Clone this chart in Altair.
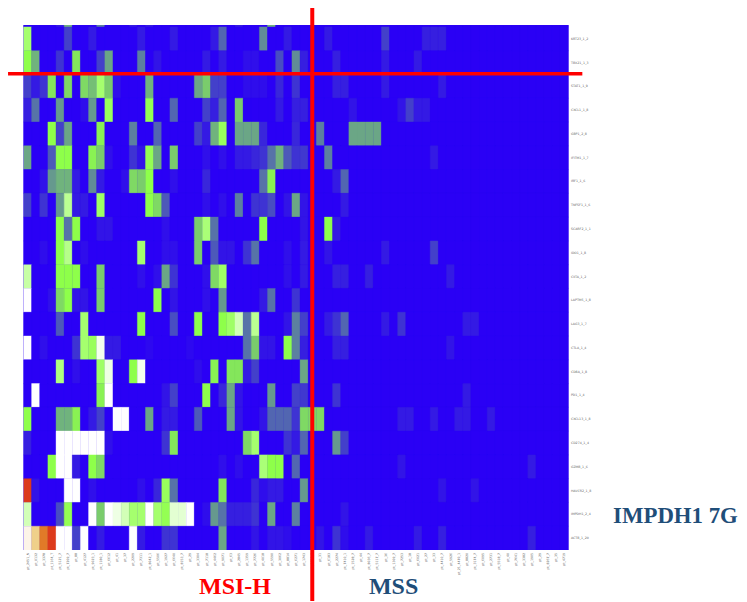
import altair as alt
import pandas as pd

row_top = {4: .1, 5: .7, 9: .5, 13: .1, 15: .1, 26: .1, 30: .7}
row_00 = {0: 1.2, 5: .25, 8: .1, 14: .1, 18: .1, 23: .1, 24: .4, 29: .55, 32: .1, 37: .1, 44: .25, 49: .12, 50: .12, 51: .12}
row_01 = {0: 1.0, 1: .7, 4: .2, 6: .9, 9: .25, 10: .65, 14: .5, 16: .08, 22: .1, 24: .1, 27: .06, 28: .06, 31: .3, 33: .55, 34: .12, 38: .12, 44: .1, 48: .1}
row_02 = {0: .25, 1: .1, 2: .2, 3: .9, 5: .85, 7: .85, 8: .75, 9: 1.2, 10: .8, 11: .06, 15: .7, 21: .65, 22: .8, 23: .25, 24: .25, 27: .05, 28: .05, 29: .05, 31: .15, 33: .2, 38: .12, 39: .12, 44: .1, 51: .1}
row_03 = {0: .12, 1: .45, 4: .6, 7: .05, 8: .6, 10: 1.1, 15: 1.05, 18: .4, 22: .25, 23: .12, 24: .4, 26: .8, 31: .1, 33: .12, 34: .12, 40: .08, 46: .08, 47: .25, 48: .1, 49: .1}
row_04 = {3: 1.0, 4: .25, 5: .65, 9: .95, 13: .5, 16: .4, 21: .25, 22: .1, 23: .7, 24: 1.1, 26: .65, 27: .65, 28: .65, 29: .15, 33: .15, 36: .5, 40: .65, 41: .65, 42: .65, 43: .65}
row_05 = {0: .65, 3: .35, 4: 1.0, 5: 1.0, 8: .95, 9: .8, 10: .06, 13: .2, 14: .08, 15: 1.05, 16: .65, 18: .8, 22: .06, 24: .06, 26: .1, 27: .1, 28: .15, 29: .2, 30: .45, 31: .7, 32: .35, 33: .2, 34: .22, 37: .5, 50: .1}
row_06 = {2: .07, 3: .6, 4: .7, 5: .7, 6: .1, 8: .55, 9: .1, 12: .06, 13: .85, 14: .8, 15: 1.0, 18: .06, 22: .15, 29: .45, 30: .95, 38: .1, 39: .4}
row_07 = {0: .25, 2: .2, 4: .6, 5: 1.4, 6: .1, 7: .1, 9: 1.15, 15: 1.0, 16: .85, 17: .35, 22: .06, 24: .06, 26: .5, 28: .2, 29: .2, 30: .3, 32: .08, 33: .65, 34: .08, 39: .1}
row_08 = {4: 1.0, 5: .45, 6: 1.0, 9: .08, 10: .08, 17: .06, 21: .8, 22: 1.25, 23: .45, 29: 1.0, 34: .08, 37: 1.0, 38: .1}
row_09 = {2: .05, 4: 1.0, 5: 1.35, 7: .05, 14: 1.2, 17: .06, 18: .06, 21: .8, 23: .35, 24: .08, 25: .08, 27: .2, 28: .45, 32: .06, 34: .1, 37: .08, 44: .1, 50: .25}
row_10 = {0: 1.5, 4: 1.0, 5: 1.0, 6: 1.0, 9: .8, 14: .06, 16: .06, 17: .65, 18: .2, 22: .06, 23: .85, 24: 1.15, 32: .06, 34: .1, 38: .12, 39: .12, 42: .12, 52: .1}
row_11 = {0: 2.0, 3: .06, 4: .85, 5: 1.0, 6: .08, 7: .08, 9: .8, 16: 1.0, 18: .08, 22: .06, 24: .6, 29: .1, 30: .45, 33: .2}
row_12 = {4: .35, 7: 1.2, 14: 1.0, 18: .3, 21: 1.0, 24: 1.0, 25: 1.15, 26: 1.6, 27: .45, 28: 1.4, 32: .08, 33: .5, 34: .25, 37: .1, 38: .2, 39: .4, 44: .1, 46: .2, 54: .1, 55: .1}
row_13 = {0: 2.0, 2: .06, 6: .2, 7: 1.2, 8: 1.1, 9: 1.9, 10: .1, 11: .1, 15: .03, 20: .03, 27: .45, 28: .8, 29: .08, 30: .08, 32: 1.0, 33: .5, 34: .12, 38: .12, 39: .12, 52: .08}
row_14 = {4: 1.3, 6: .06, 9: 1.15, 10: 1.85, 13: 1.0, 14: 1.9, 21: .05, 23: .95, 25: .9, 26: .9, 27: .1, 28: .25, 34: .65}
row_15 = {1: 2.0, 9: .95, 10: 2.0, 17: .08, 18: .25, 22: 1.0, 24: .15, 25: .65, 26: .08, 30: .6, 33: .25, 34: .22, 38: .2, 54: .1}
row_16 = {0: 1.0, 4: .7, 5: .7, 6: .95, 8: .1, 9: .25, 11: 2.0, 12: 2.0, 15: .65, 17: .1, 18: .1, 21: .35, 25: .65, 26: .08, 29: .08, 30: .4, 31: .4, 32: .4, 33: .2, 34: .85, 35: .85, 36: .85, 46: .1, 47: .1, 50: .1, 53: .1, 54: .1, 57: .1}
row_17 = {0: .12, 4: 2.0, 5: 2.0, 6: 2.0, 7: 2.0, 8: 2.0, 9: 2.0, 10: .06, 17: .2, 18: .9, 27: .85, 28: 1.2, 32: .2, 33: .1, 34: .4, 38: .6, 39: .25}
row_18 = {3: 1.0, 4: 2.0, 5: 2.0, 6: .1, 8: 1.0, 9: .85, 24: .06, 26: .05, 29: 1.25, 30: 1.0, 31: 1.0, 33: .4, 46: .08, 62: .1}
row_19 = {0: 2.95, 1: .08, 5: 2.0, 6: 2.0, 8: .06, 14: .06, 16: .15, 17: 1.1, 18: .45, 24: .9, 28: .15, 29: .05, 30: .1, 31: .1, 34: .6, 51: .08, 55: .08}
row_20 = {0: 1.6, 4: .3, 5: 1.05, 8: 2.0, 9: .8, 10: 2.0, 11: 1.85, 12: 1.6, 13: 1.2, 14: 1.2, 15: 2.0, 16: 1.2, 17: 1.05, 18: 1.75, 19: 1.75, 20: 2.0, 22: .05, 23: .6, 24: .45, 25: .12, 26: .12, 27: .12, 28: .2, 30: .65, 33: .5, 39: .08}
row_21 = {0: 2.1, 1: 2.35, 2: 2.65, 3: 2.95, 4: 2.0, 5: 2.0, 6: .25, 7: 2.0, 9: .1, 13: 2.0, 14: .1, 17: .2, 18: .2, 24: .65, 28: .08, 30: .08, 31: .08, 32: .05, 36: .08, 38: .2, 39: .05, 42: .1, 48: .1, 51: .12, 62: .12}

rows = [row_00, row_01, row_02, row_03, row_04, row_05, row_06, row_07, row_08, row_09, row_10,
        row_11, row_12, row_13, row_14, row_15, row_16, row_17, row_18, row_19, row_20, row_21]

row_labels = ["KRT23_1_2", "TBX21_1_3", "STAT1_1_9", "CXCL1_1_8", "GBP1_2_8", "IFITM1_1_7", "IRF1_1_6",
              "TNFSF1_1_6", "SCARF2_1_1", "IDO1_1_8", "CIITA_1_2", "LAPTM5_1_8", "LAG3_1_7", "CTLA_1_4",
              "CD8A_1_8", "PD1_1_4", "CXCL13_1_8", "CD274_1_4", "GZMB_1_6", "HAVCR2_1_8", "IMPDH1_2_4", "ACTB_1_20"]

msi_ids = ["pt_2451_N", "pt_0132", "pt_3378", "pt_1164_T", "pt_5121_7", "pt_7209_7", "pt_88", "pt_4127", "pt_9023_1",
           "pt_1180_1", "pt_6612", "pt_41", "pt_37", "pt_2209", "pt_7311", "pt_8042_1", "pt_5506", "pt_1927",
           "pt_6640", "pt_8153_7", "pt_29", "pt_3304", "pt_7118", "pt_4462", "pt_9071", "pt_63", "pt_2845",
           "pt_1359", "pt_7726", "pt_4018", "pt_5590", "pt_3062", "pt_8814", "pt_6271", "pt_1743"]
mss_ids = ["pt_9052_7", "pt_31", "pt_6183", "pt_2274", "pt_7410_1", "pt_1528_7", "pt_44", "pt_8036_7", "pt_5117_7",
           "pt_36", "pt_1309_7", "pt_7253", "pt_18", "pt_6021", "pt_27", "pt_33", "pt_4410_7", "pt_5926",
           "pt_21_4470_1", "pt_8820", "pt_3174_7", "pt_6095", "pt_2731", "pt_5518_7", "pt_40", "pt_7641", "pt_3382",
           "pt_1905", "pt_29", "pt_8267_7", "pt_35", "pt_4719"]
col_labels = msi_ids + mss_ids

vline_col = [35.5]
vline_start = [-0.84]
vline_end = [24.2]
hline_row = [1.97]
hline_start = [-1.9]
hline_end = [68.7]

note_text = ["MSI-H", "MSS"]
note_col = [26.0, 45.5]
note_row = [23.57, 23.57]
note_color = ["#ff0000", "#1f4e79"]
side_text = ["IMPDH1 7G"]
side_col = [80.15]
side_row = [20.55]

col_label_row = 22.12
row_label_col = 67.3

n_cols = len(col_labels)
n_rows = len(rows)
records = []
for r, row in enumerate([row_top] + rows):
    for c in range(n_cols):
        records.append({"c0": c, "c1": c + 1, "r0": r - 1, "r1": r, "v": row.get(c, 0.0)})
cells = pd.DataFrame(records)

x_scale = alt.Scale(domain=[0, n_cols], nice=False, zero=False)
y_scale = alt.Scale(domain=[-0.08, n_rows], nice=False, zero=False, reverse=True)
heat_colors = alt.Scale(
    domain=[0, 1, 2, 2.1, 2.35, 2.65, 2.95],
    range=["#2a00f5", "#8eff4a", "#ffffff", "#fcf4e8", "#efd08a", "#e17a28", "#dc3a1c"],
    interpolate="rgb")
X = lambda f: alt.X(f, scale=x_scale, axis=None)
Y = lambda f: alt.Y(f, scale=y_scale, axis=None)

heat = alt.Chart(cells).mark_rect(clip=True, strokeWidth=0.4).encode(
    x=X("c0:Q"), x2="c1:Q", y=Y("r0:Q"), y2="r1:Q",
    color=alt.Color("v:Q", legend=None, scale=heat_colors),
    stroke=alt.Stroke("v:Q", legend=None, scale=heat_colors),
)

col_text = alt.Chart(pd.DataFrame({
    "t": col_labels, "c": [i + 0.5 for i in range(n_cols)], "r": [col_label_row] * n_cols
})).mark_text(font="DejaVu Sans", fontSize=3.2, color="#666666", angle=270, align="right", baseline="middle").encode(
    x=X("c:Q"), y=Y("r:Q"), text="t:N")
row_text = alt.Chart(pd.DataFrame({
    "t": row_labels, "c": [row_label_col] * n_rows, "r": [i + 0.5 for i in range(n_rows)]
})).mark_text(font="DejaVu Sans", fontSize=3.2, color="#666666", align="left", baseline="middle").encode(
    x=X("c:Q"), y=Y("r:Q"), text="t:N")

v_rule = alt.Chart(pd.DataFrame({"c": vline_col, "r": vline_start, "r2": vline_end})).mark_rule(
    color="#ff0000", strokeWidth=4).encode(x=X("c:Q"), y=Y("r:Q"), y2="r2:Q")
h_rule = alt.Chart(pd.DataFrame({"r": hline_row, "c": hline_start, "c2": hline_end})).mark_rule(
    color="#ff0000", strokeWidth=3.5).encode(y=Y("r:Q"), x=X("c:Q"), x2="c2:Q")
notes = alt.Chart(pd.DataFrame({"t": note_text, "c": note_col, "r": note_row, "k": note_color})).mark_text(
    font="Liberation Serif", fontWeight="bold", fontSize=24, align="center", baseline="middle").encode(
    x=X("c:Q"), y=Y("r:Q"), text="t:N", color=alt.Color("k:N", scale=None))
side = alt.Chart(pd.DataFrame({"t": side_text, "c": side_col, "r": side_row})).mark_text(
    font="Liberation Serif", fontWeight="bold", fontSize=22.8, color="#1f4e79", align="center", baseline="middle").encode(
    x=X("c:Q"), y=Y("r:Q"), text="t:N")

chart = alt.layer(heat, col_text, row_text, v_rule, h_rule, notes, side).resolve_scale(color="independent").properties(
    width=545, height=525,
    autosize=alt.AutoSizeParams(type="none"),
    padding={"left": 15.5, "top": 17, "right": 170, "bottom": 51},
    background="#ffffff",
).configure_view(fill="#2a00f5", stroke=None)

chart.save("out.html", embed_options={"renderer": "svg", "actions": False})
